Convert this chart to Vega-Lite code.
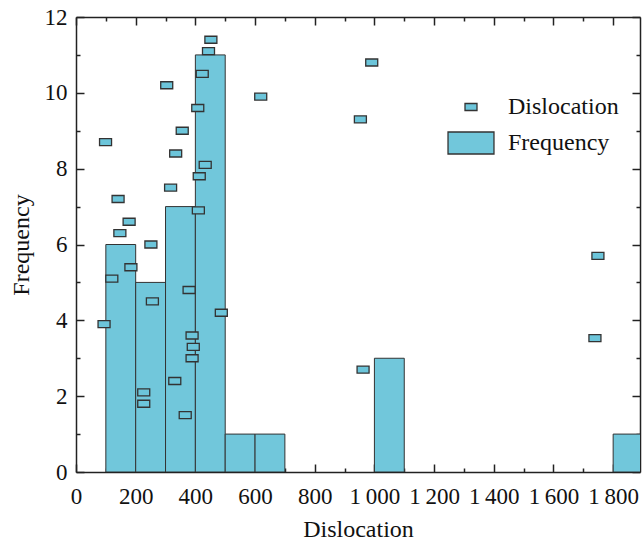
{
  "$schema": "https://vega.github.io/schema/vega-lite/v6.json",
  "width": 564,
  "height": 455,
  "autosize": {"type": "none"},
  "padding": {"left": 76, "top": 17, "right": 2, "bottom": 71},
  "background": "white",
  "config": {
    "view": {"stroke": null},
    "font": "Liberation Serif",
    "axis": {
      "labelFont": "Liberation Serif",
      "labelFontSize": 23,
      "labelColor": "#111",
      "titleFont": "Liberation Serif",
      "titleFontSize": 24,
      "titleFontWeight": "normal",
      "titleColor": "#111",
      "domainColor": "#222",
      "domainWidth": 1.5,
      "tickColor": "#222",
      "tickWidth": 1.5,
      "grid": false
    },
    "legend": {
      "labelFont": "Liberation Serif",
      "labelFontSize": 24,
      "labelColor": "#111"
    }
  },
  "datasets": {
    "bins": [
      {"start": 100, "end": 200, "count": 6},
      {"start": 200, "end": 300, "count": 5},
      {"start": 300, "end": 400, "count": 7},
      {"start": 400, "end": 500, "count": 11},
      {"start": 500, "end": 600, "count": 1},
      {"start": 600, "end": 700, "count": 1},
      {"start": 1000, "end": 1100, "count": 3},
      {"start": 1800, "end": 1900, "count": 1}
    ],
    "points": [
      {"disloc": 452, "freq": 11.4, "series": "Dislocation"},
      {"disloc": 444, "freq": 11.1, "series": "Dislocation"},
      {"disloc": 423, "freq": 10.5, "series": "Dislocation"},
      {"disloc": 304, "freq": 10.2, "series": "Dislocation"},
      {"disloc": 619, "freq": 9.9, "series": "Dislocation"},
      {"disloc": 408, "freq": 9.6, "series": "Dislocation"},
      {"disloc": 356, "freq": 9.0, "series": "Dislocation"},
      {"disloc": 99, "freq": 8.7, "series": "Dislocation"},
      {"disloc": 334, "freq": 8.4, "series": "Dislocation"},
      {"disloc": 433, "freq": 8.1, "series": "Dislocation"},
      {"disloc": 413, "freq": 7.8, "series": "Dislocation"},
      {"disloc": 317, "freq": 7.5, "series": "Dislocation"},
      {"disloc": 141, "freq": 7.2, "series": "Dislocation"},
      {"disloc": 410, "freq": 6.9, "series": "Dislocation"},
      {"disloc": 178, "freq": 6.6, "series": "Dislocation"},
      {"disloc": 147, "freq": 6.3, "series": "Dislocation"},
      {"disloc": 251, "freq": 6.0, "series": "Dislocation"},
      {"disloc": 184, "freq": 5.4, "series": "Dislocation"},
      {"disloc": 120, "freq": 5.1, "series": "Dislocation"},
      {"disloc": 379, "freq": 4.8, "series": "Dislocation"},
      {"disloc": 256, "freq": 4.5, "series": "Dislocation"},
      {"disloc": 487, "freq": 4.2, "series": "Dislocation"},
      {"disloc": 94, "freq": 3.9, "series": "Dislocation"},
      {"disloc": 389, "freq": 3.6, "series": "Dislocation"},
      {"disloc": 393, "freq": 3.3, "series": "Dislocation"},
      {"disloc": 389, "freq": 3.0, "series": "Dislocation"},
      {"disloc": 331, "freq": 2.4, "series": "Dislocation"},
      {"disloc": 227, "freq": 2.1, "series": "Dislocation"},
      {"disloc": 227, "freq": 1.8, "series": "Dislocation"},
      {"disloc": 366, "freq": 1.5, "series": "Dislocation"},
      {"disloc": 991, "freq": 10.8, "series": "Dislocation"},
      {"disloc": 953, "freq": 9.3, "series": "Dislocation"},
      {"disloc": 962, "freq": 2.7, "series": "Dislocation"},
      {"disloc": 1749, "freq": 5.7, "series": "Dislocation"},
      {"disloc": 1739, "freq": 3.53, "series": "Dislocation"}
    ]
  },
  "resolve": {"axis": {"x": "independent", "y": "independent"}},
  "layer": [
    {
      "data": {"name": "bins"},
      "mark": {"type": "rect", "fill": "#71C7DB", "stroke": "#333", "strokeWidth": 1, "clip": true},
      "encoding": {
        "x": {
          "field": "start", "type": "quantitative",
          "scale": {"domain": [0, 1890], "nice": false, "zero": false},
          "axis": {
            "orient": "bottom",
            "title": "Dislocation",
            "values": [0, 200, 400, 600, 800, 1000, 1200, 1400, 1600, 1800],
            "labelExpr": "replace(format(datum.value, ','), ',', '\u2009')",
            "tickSize": -8,
            "labelPadding": 21,
            "labelFlush": false,
            "labelOverlap": false,
            "titleY": 64,
            "titleBaseline": "alphabetic"
          }
        },
        "x2": {"field": "end"},
        "y": {
          "field": "count", "type": "quantitative",
          "scale": {"domain": [0, 12], "nice": false},
          "axis": {
            "orient": "left",
            "title": "Frequency",
            "values": [0, 2, 4, 6, 8, 10, 12],
            "tickSize": -8,
            "labelPadding": 17,
            "labelFlush": false,
            "labelOverlap": false,
            "titleX": -48,
            "titleBaseline": "alphabetic"
          }
        },
        "y2": {"datum": 0}
      }
    },
    {
      "data": {"name": "points"},
      "mark": {"type": "point", "filled": true, "strokeWidth": 1.3, "size": 144, "opacity": 1, "fillOpacity": 1, "strokeOpacity": 1},
      "encoding": {
        "x": {
          "field": "disloc", "type": "quantitative",
          "scale": {"domain": [0, 1890], "nice": false, "zero": false},
          "axis": {
            "orient": "top", "title": null, "labels": false,
            "values": [0, 200, 400, 600, 800, 1000, 1200, 1400, 1600, 1800],
            "tickSize": -8
          }
        },
        "y": {
          "field": "freq", "type": "quantitative",
          "scale": {"domain": [0, 12], "nice": false},
          "axis": {
            "orient": "right", "title": null, "labels": false,
            "values": [0, 2, 4, 6, 8, 10, 12],
            "tickSize": -8
          }
        },
        "fill": {
          "field": "series", "type": "nominal",
          "scale": {"domain": ["Dislocation", "Frequency"], "range": ["#6CC5DA", "#71C7DB"]},
          "legend": {
            "title": null, "orient": "none", "legendX": 383, "legendY": 78, "padding": 0,
            "symbolSize": 144, "symbolStrokeWidth": 1.3, "labelOffset": 25, "rowPadding": 10
          }
        },
        "stroke": {
          "field": "series", "type": "nominal",
          "scale": {"domain": ["Dislocation", "Frequency"], "range": ["#333", "#333"]},
          "legend": {
            "title": null, "orient": "none", "legendX": 383, "legendY": 78, "padding": 0,
            "symbolSize": 144, "symbolStrokeWidth": 1.3, "labelOffset": 25, "rowPadding": 10
          }
        },
        "shape": {
          "field": "series", "type": "nominal",
          "scale": {
            "domain": ["Dislocation", "Frequency"],
            "range": ["M-1,-0.58H1V0.58H-1Z", "M-3.83,-1.83H3.83V1.83H-3.83Z"]
          },
          "legend": {
            "title": null, "orient": "none", "legendX": 383, "legendY": 78, "padding": 0,
            "symbolSize": 144, "symbolStrokeWidth": 1.3, "labelOffset": 25, "rowPadding": 10
          }
        }
      }
    },
    {
      "data": {"name": "points"},
      "mark": {"type": "point", "opacity": 0},
      "encoding": {
        "x": {
          "field": "disloc", "type": "quantitative",
          "scale": {"domain": [0, 1890], "nice": false, "zero": false},
          "axis": {
            "orient": "bottom", "title": null, "labels": false, "domain": false,
            "values": [100, 300, 500, 700, 900, 1100, 1300, 1500, 1700],
            "tickSize": -4
          }
        },
        "y": {
          "field": "freq", "type": "quantitative",
          "scale": {"domain": [0, 12], "nice": false},
          "axis": {
            "orient": "left", "title": null, "labels": false, "domain": false,
            "values": [1, 3, 5, 7, 9, 11],
            "tickSize": -4
          }
        }
      }
    },
    {
      "data": {"name": "points"},
      "mark": {"type": "point", "opacity": 0},
      "encoding": {
        "x": {
          "field": "disloc", "type": "quantitative",
          "scale": {"domain": [0, 1890], "nice": false, "zero": false},
          "axis": {
            "orient": "top", "title": null, "labels": false, "domain": false,
            "values": [100, 300, 500, 700, 900, 1100, 1300, 1500, 1700],
            "tickSize": -4
          }
        },
        "y": {
          "field": "freq", "type": "quantitative",
          "scale": {"domain": [0, 12], "nice": false},
          "axis": {
            "orient": "right", "title": null, "labels": false, "domain": false,
            "values": [1, 3, 5, 7, 9, 11],
            "tickSize": -4
          }
        }
      }
    }
  ]
}
